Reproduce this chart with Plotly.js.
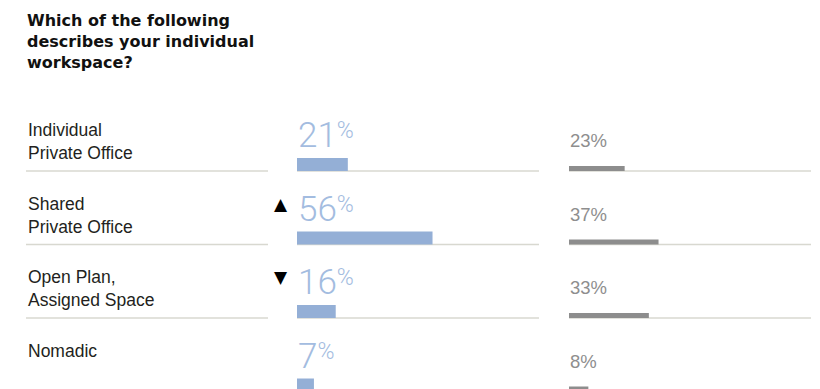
<!DOCTYPE html>
<html>
<head>
<meta charset="utf-8">
<script src="https://cdn.plot.ly/plotly-3.0.1.min.js"></script>
<style>
  html, body { margin: 0; padding: 0; background: #ffffff; }
  #chart { width: 820px; height: 389px; }
</style>
</head>
<body>
<div id="chart"></div>
<script>
// ---- data ----
const titleText = 'Which of the following<br>describes your individual<br>workspace?';
const categories = ['Individual Private Office', 'Shared Private Office', 'Open Plan, Assigned Space', 'Nomadic'];
const categoryLabels = ['Individual<br>Private Office', 'Shared<br>Private Office', 'Open Plan,<br>Assigned Space', 'Nomadic'];
const currentValues = [21, 56, 16, 7];
const priorValues = [23, 37, 33, 8];
const changeMarks = ['', '▲', '▼', ''];

// ---- layout helpers ----
const W = 820, H = 389;
const rowPx = 73.5;             // pixels per category row
const topMargin = 90;
const yTopVal = 0.5 - (171 - topMargin) / rowPx;
const yBotVal = yTopVal + (H - topMargin) / rowPx;
// convert "pixels above the row separator" into a y value on the reversed axis
function rowY(i, pxAbove) { return i + 0.5 - pxAbove / rowPx; }

const blueBar = '#94afd6';
const blueText = '#a3bce0';
const greyBar = '#8d8d8d';
const greyText = '#8e8e8e';
const sepColor = '#d8d8d0';

const traces = [
  {
    type: 'bar', orientation: 'h',
    x: currentValues, y: categories,
    xaxis: 'x', yaxis: 'y',
    width: 13 / rowPx, offset: 0.5 - 13 / rowPx,
    marker: { color: blueBar },
    hoverinfo: 'skip'
  },
  {
    type: 'bar', orientation: 'h',
    x: priorValues, y: categories,
    xaxis: 'x2', yaxis: 'y',
    width: 5 / rowPx, offset: 0.5 - 5 / rowPx,
    marker: { color: greyBar },
    hoverinfo: 'skip'
  }
];

const shapes = [];
const annotations = [];
categories.forEach((c, i) => {
  const yv = i + 0.5;
  shapes.push({ type: 'line', xref: 'paper', yref: 'y', x0: 26 / W, x1: 268 / W, y0: yv, y1: yv,
                line: { color: sepColor, width: 1.5 }, layer: 'below' });
  shapes.push({ type: 'line', xref: 'x domain', yref: 'y', x0: 0, x1: 1, y0: yv, y1: yv,
                line: { color: sepColor, width: 1.5 }, layer: 'below' });
  shapes.push({ type: 'line', xref: 'x2 domain', yref: 'y', x0: 0, x1: 1, y0: yv, y1: yv,
                line: { color: sepColor, width: 1.5 }, layer: 'below' });

  // category label
  annotations.push({
    xref: 'paper', yref: 'y', x: 27 / W, y: rowY(i, 52),
    xanchor: 'left', yanchor: 'top', align: 'left', showarrow: false,
    borderpad: 0, text: categoryLabels[i],
    font: { family: 'Liberation Sans, Arial, sans-serif', size: 17.5, color: '#231f20' }
  });

  // big current value
  annotations.push({
    xref: 'x', yref: 'y', x: 0, y: rowY(i, 14),
    xanchor: 'left', yanchor: 'bottom', showarrow: false, borderpad: 0,
    text: currentValues[i] + '<span style="font-size:22px"><sup><span style="font-size:23px">%</span></sup></span>',
    font: { family: 'Roboto, Lato, sans-serif', size: 35, weight: 300, color: blueText }
  });

  // prior value
  annotations.push({
    xref: 'x2', yref: 'y', x: 0, y: rowY(i, 19),
    xanchor: 'left', yanchor: 'bottom', showarrow: false, borderpad: 0,
    text: priorValues[i] + '%',
    font: { family: 'Liberation Sans, Arial, sans-serif', size: 18.5, color: greyText }
  });

  if (changeMarks[i]) {
    annotations.push({
      xref: 'x', yref: 'y', x: 0, y: rowY(i, 41),
      xanchor: 'right', yanchor: 'middle', xshift: -8, showarrow: false, borderpad: 0,
      text: changeMarks[i],
      font: { family: 'DejaVu Sans, sans-serif', size: 17, color: '#000000' }
    });
  }
});

const layout = {
  width: W, height: H,
  margin: { l: 0, r: 0, t: topMargin, b: 0, pad: 0 },
  paper_bgcolor: '#ffffff', plot_bgcolor: '#ffffff',
  showlegend: false,
  title: {
    text: titleText,
    x: 27 / W, xref: 'paper', xanchor: 'left',
    y: 1 - 26 / H, yref: 'container', yanchor: 'top',
    font: { family: 'DejaVu Sans, sans-serif', size: 16, weight: 'bold', color: '#111111' }
  },
  xaxis: { domain: [297 / W, 539 / W], range: [0, 100], visible: false, fixedrange: true },
  xaxis2: { domain: [569 / W, 811 / W], range: [0, 100], visible: false, anchor: 'y', fixedrange: true },
  yaxis: {
    type: 'category', categoryarray: categories, categoryorder: 'array',
    range: [yBotVal, yTopVal], visible: false, fixedrange: true
  },
  shapes: shapes,
  annotations: annotations
};

Plotly.newPlot('chart', traces, layout, { displayModeBar: false, staticPlot: true });
</script>
</body>
</html>
